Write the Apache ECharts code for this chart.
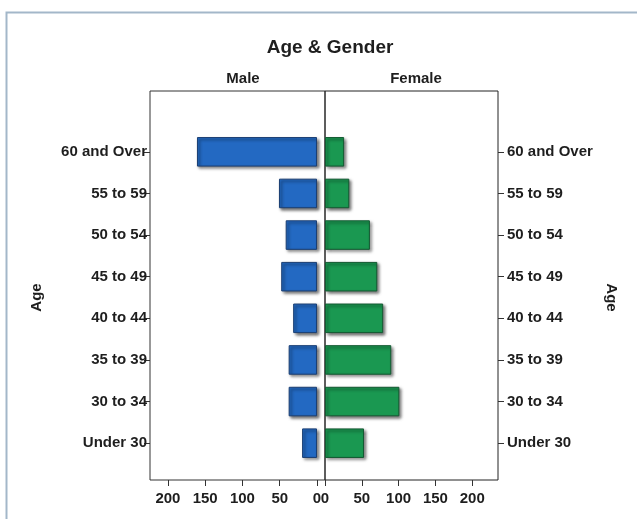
<!DOCTYPE html>
<html>
<head>
<meta charset="utf-8">
<script src="https://cdn.jsdelivr.net/npm/echarts@6/dist/echarts.min.js"></script>
<style>
html,body{margin:0;padding:0;background:#fff;}
#chart{width:637px;height:519px;}
</style>
</head>
<body>
<div id="chart"></div>
<script>
// ---- data ----
var categories = ['Under 30', '30 to 34', '35 to 39', '40 to 44', '45 to 49', '50 to 54', '55 to 59', '60 and Over'];
var maleValues = [20, 38, 38, 32, 48, 42, 51, 161];
var femaleValues = [53, 101, 90, 79, 71, 61, 33, 26];
var tickStep = 50;
var titleText = 'Age & Gender';
var panelNames = ['Male', 'Female'];
var axisName = 'Age';

var FONT = 'Liberation Sans, Arial, sans-serif';
var TXT = '#1e1e1e';
var lab = {color: TXT, fontFamily: FONT, fontWeight: 'bold', fontSize: 15};
var lineCol = {color: '#333', width: 1};

var chart = echarts.init(document.getElementById('chart'), null, {renderer: 'canvas'});

var barShadow = {shadowColor: 'rgba(0,0,0,0.55)', shadowBlur: 3, shadowOffsetX: 2, shadowOffsetY: 2};

function xAxisFor(grid, max, inv) {
  return {type: 'value', gridIndex: grid, inverse: inv, min: 0, max: max, interval: tickStep,
    position: 'bottom', offset: 16,
    axisLine: {show: true, onZero: false, lineStyle: {color: 'rgba(0,0,0,0)'}}, splitLine: {show: false},
    axisTick: {show: true, length: 6, lineStyle: lineCol},
    axisLabel: Object.assign({margin: 11, showMaxLabel: false,
      formatter: function (v) { return v % tickStep === 0 ? String(v) : ''; }}, lab)};
}

var option = {
  backgroundColor: '#ffffff',
  animation: false,
  graphic: [{
    type: 'rect', left: 4, top: 10, silent: true,
    shape: {width: 700, height: 600},
    style: {fill: 'none', stroke: '#a3b7c9', lineWidth: 2}
  }],
  title: [
    {text: titleText, left: 325, top: 33, textAlign: 'center',
     textStyle: {color: TXT, fontFamily: FONT, fontWeight: 'bold', fontSize: 19}},
    {text: panelNames[0], left: 238, top: 66, textAlign: 'center',
     textStyle: {color: TXT, fontFamily: FONT, fontWeight: 'bold', fontSize: 15}},
    {text: panelNames[1], left: 411, top: 66, textAlign: 'center',
     textStyle: {color: TXT, fontFamily: FONT, fontWeight: 'bold', fontSize: 15}}
  ],
  grid: [
    {left: 150, top: 131, width: 167, height: 333, show: false},
    {left: 325, top: 131, width: 173, height: 333, show: false},
    {left: 150, top: 91, width: 175, height: 389, show: true, borderColor: '#333', borderWidth: 1, backgroundColor: 'transparent'},
    {left: 325, top: 91, width: 173, height: 389, show: true, borderColor: '#222', borderWidth: 1, backgroundColor: 'transparent'}
  ],
  xAxis: [
    xAxisFor(0, 224, true),
    xAxisFor(1, 235, false),
    {type: 'value', gridIndex: 2, show: false},
    {type: 'value', gridIndex: 3, show: false}
  ],
  yAxis: [
    {type: 'category', gridIndex: 0, data: categories, position: 'left',
     axisLine: {show: true, onZero: false, lineStyle: {color: 'rgba(0,0,0,0)'}}, splitLine: {show: false},
     axisTick: {show: true, length: 6, alignWithLabel: true, lineStyle: lineCol},
     axisLabel: Object.assign({margin: 3}, lab),
     name: axisName, nameLocation: 'middle', nameGap: 106, nameRotate: 90,
     nameTextStyle: {color: TXT, fontFamily: FONT, fontWeight: 'bold', fontSize: 15}},
    {type: 'category', gridIndex: 1, data: categories, position: 'right',
     axisLine: {show: true, onZero: false, lineStyle: {color: 'rgba(0,0,0,0)'}}, splitLine: {show: false},
     axisTick: {show: true, length: 6, alignWithLabel: true, lineStyle: lineCol},
     axisLabel: Object.assign({margin: 9}, lab),
     name: axisName, nameLocation: 'middle', nameGap: 106, nameRotate: -90,
     nameTextStyle: {color: TXT, fontFamily: FONT, fontWeight: 'bold', fontSize: 15}},
    {type: 'value', gridIndex: 2, show: false},
    {type: 'value', gridIndex: 3, show: false}
  ],
  series: [
    {type: 'bar', name: panelNames[0], xAxisIndex: 0, yAxisIndex: 0, data: maleValues,
     barWidth: '71%',
     itemStyle: Object.assign({color: '#2369c2', borderColor: '#1b3f73', borderWidth: 1}, barShadow)},
    {type: 'bar', name: panelNames[1], xAxisIndex: 1, yAxisIndex: 1, data: femaleValues,
     barWidth: '71%',
     itemStyle: Object.assign({color: '#1a9851', borderColor: '#135a32', borderWidth: 1}, barShadow)}
  ]
};
chart.setOption(option);
</script>
</body>
</html>
